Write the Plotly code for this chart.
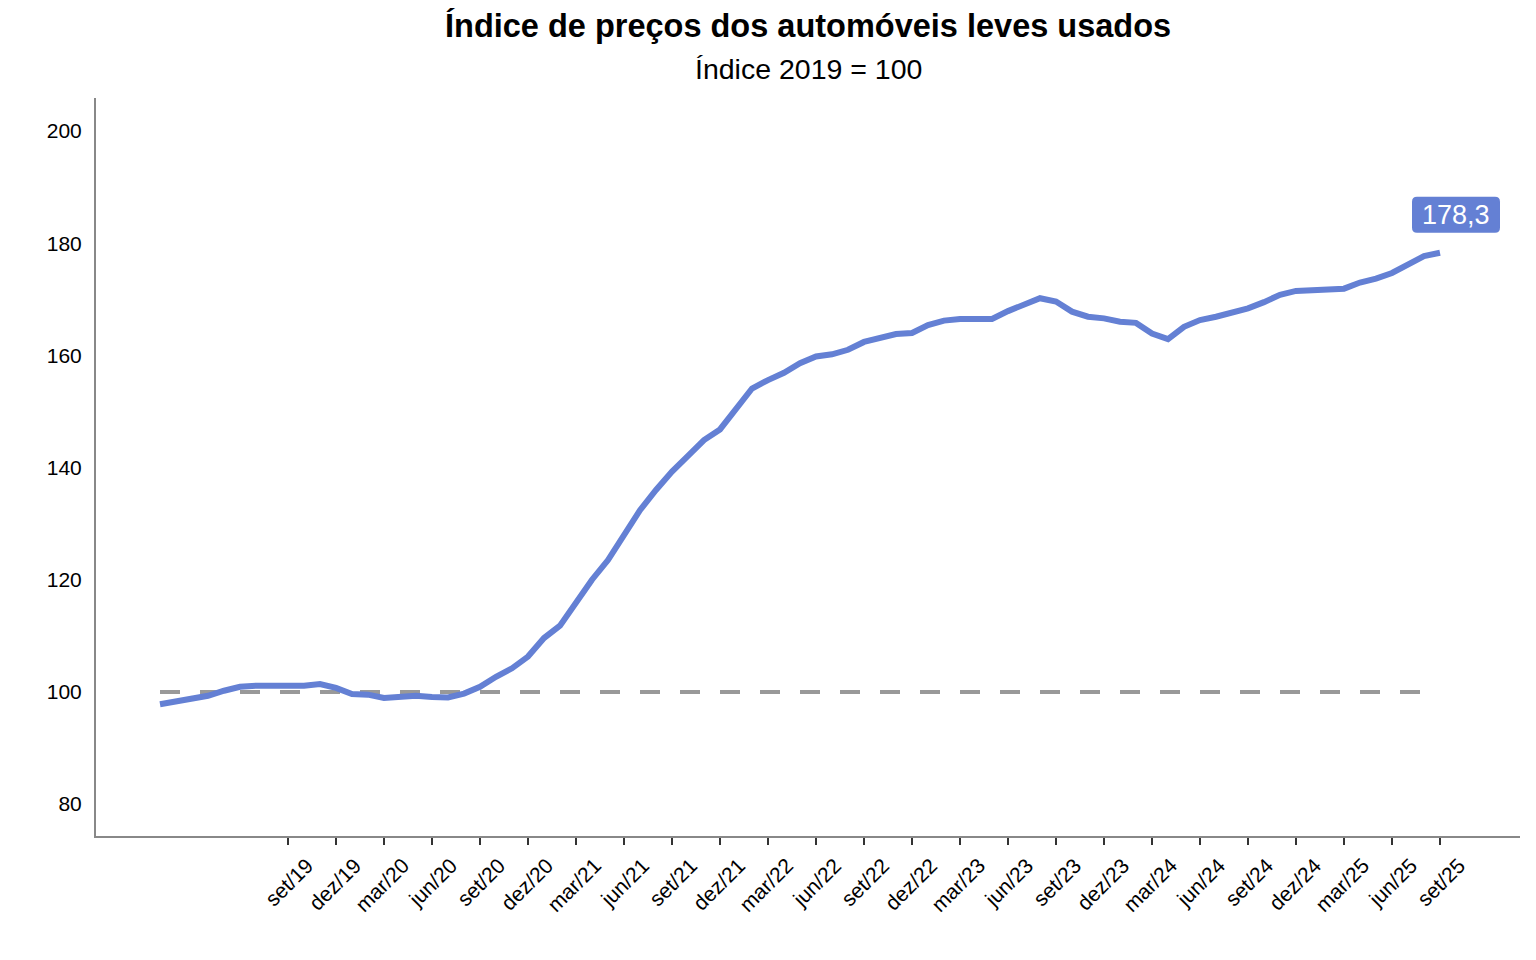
import plotly.graph_objects as go

meses = ["jan", "fev", "mar", "abr", "mai", "jun", "jul", "ago", "set", "out", "nov", "dez"]
months = [f"{meses[i % 12]}/{19 + i // 12}" for i in range(81)]  # jan/19 .. set/25

index_values = [
    97.8, 98.3, 99.0, 99.3, 100.2, 100.9, 101.1, 101.1, 101.1, 101.1, 101.4, 100.7,
    99.6, 99.5, 98.9, 99.0, 99.3, 99.1, 99.0, 99.7, 100.9, 102.7, 104.2, 106.3,
    109.6, 111.8, 116.1, 120.0, 123.5, 128.0, 132.4, 136.0, 139.3, 142.1, 144.9, 146.8,
    150.3, 154.1, 155.6, 156.9, 158.6, 159.8, 160.2, 161.0, 162.4, 163.0, 163.8, 164.0,
    165.4, 166.2, 166.5, 166.5, 166.5, 167.9, 169.1, 170.2, 169.6, 167.8, 166.9, 166.6,
    166.0, 165.8, 163.9, 162.9, 165.1, 166.3, 166.9, 167.6, 168.4, 169.5, 170.8, 171.5,
    171.7, 171.9, 171.9, 173.0, 173.7, 174.7, 176.3, 177.7, 178.3,
]
baseline = [100] * len(months)

tick_labels = [m for i, m in enumerate(months) if i >= 8 and (i - 8) % 3 == 0]
tick_positions = [i for i, m in enumerate(months) if m in tick_labels]
y_ticks = [80, 100, 120, 140, 160, 180, 200]

x = list(range(len(months)))
blue = "#6480d4"

fig = go.Figure()
fig.add_trace(go.Scatter(x=x, y=baseline, mode="lines",
                         line=dict(color="#999999", width=4, dash="20px,20px"),
                         hoverinfo="skip", showlegend=False))
fig.add_trace(go.Scatter(x=x, y=index_values, mode="lines",
                         line=dict(color=blue, width=6),
                         customdata=months, hovertemplate="%{customdata}: %{y:.1f}<extra></extra>",
                         showlegend=False))

# rounded label box anchored to the last data point (pixel offsets)
x0, x1, y0, y1, r = -28, 60, 20, 56, 5
path = (f"M {x0 + r},{y0} L {x1 - r},{y0} Q {x1},{y0} {x1},{y0 + r} "
        f"L {x1},{y1 - r} Q {x1},{y1} {x1 - r},{y1} L {x0 + r},{y1} "
        f"Q {x0},{y1} {x0},{y1 - r} L {x0},{y0 + r} Q {x0},{y0} {x0 + r},{y0} Z")
fig.add_shape(type="path", xref="x", yref="y", xsizemode="pixel", ysizemode="pixel",
              xanchor=x[-1], yanchor=index_values[-1], path=path,
              fillcolor=blue, line=dict(width=0), layer="above")

fig.add_annotation(x=x[-1], y=index_values[-1], text=f"{index_values[-1]:.1f}".replace(".", ","),
                   showarrow=False, xshift=16, yshift=38,
                   font=dict(color="white", size=27, family="Liberation Sans"))

fig.add_annotation(text="<b>Índice de preços dos automóveis leves usados</b>",
                   xref="paper", yref="paper", x=0.5, y=1, yshift=73, showarrow=False,
                   font=dict(size=32.5, color="black", family="Liberation Sans"), yanchor="middle")
fig.add_annotation(text="Índice 2019 = 100",
                   xref="paper", yref="paper", x=0.5, y=1, yshift=29, showarrow=False,
                   font=dict(size=28.5, color="black", family="Liberation Sans"), yanchor="middle")

fig.update_layout(
    width=1536, height=960,
    margin=dict(l=88, r=24, t=90, b=132),
    paper_bgcolor="white", plot_bgcolor="white",
    font=dict(family="Liberation Sans", size=21, color="black"),
    xaxis=dict(range=[-4, 85], tickmode="array", tickvals=tick_positions, ticktext=tick_labels,
               tickangle=-45, ticks="outside", ticklen=7, tickcolor="#333333", tickwidth=2,
               ticklabelshift=19,
               showline=True, linecolor="#888888", linewidth=2, showgrid=False, zeroline=False,
               tickfont=dict(size=21)),
    yaxis=dict(range=[74.3, 205.9], tickmode="array", tickvals=y_ticks,
               ticks="outside", ticklen=0, ticklabelstandoff=8,
               showline=True, linecolor="#888888", linewidth=2, showgrid=False, zeroline=False,
               tickfont=dict(size=21)),
)

fig.write_html("out.html")
